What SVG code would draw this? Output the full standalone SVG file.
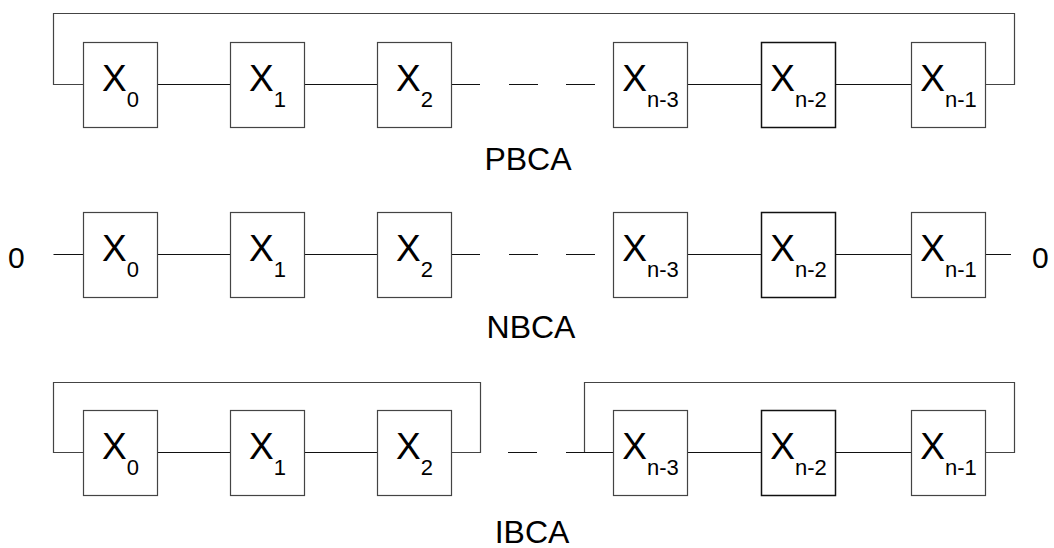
<svg xmlns="http://www.w3.org/2000/svg" width="1054" height="548" viewBox="0 0 1054 548">
  <style>
    .cell { fill: #fff; stroke: #444; stroke-width: 1.2; }
    .cell.dark { stroke: #111; stroke-width: 1.5; }
    .wire { fill: none; stroke: #111; stroke-width: 1.2; }
    .loop { fill: none; stroke: #444; stroke-width: 1.2; }
    .var { font-family: "Liberation Sans", Arial, sans-serif; font-size: 37px; fill: #000; }
    .var .sub { font-size: 22px; }
    .label { font-family: "Liberation Sans", Arial, sans-serif; font-size: 32px; fill: #000; }
    .bound { font-family: "Liberation Sans", Arial, sans-serif; font-size: 30px; fill: #000; }
  </style>

  <!-- connectors -->
  <g id="connectors">
    <!-- PBCA: periodic boundary, wraps last cell to first -->
    <path class="loop" d="M83 84.5 H53.5 V13.5 H1014.5 V84.5 H985"/>
    <path class="wire" d="M157 84.5 H230 M304 84.5 H377 M451 84.5 H480 M509 84.5 H538 M566 84.5 H595 M687 84.5 H761 M835 84.5 H911"/>

    <!-- NBCA: null boundary -->
    <path class="wire" d="M53.5 254.5 H83 M157 254.5 H230 M304 254.5 H377 M451 254.5 H480 M509 254.5 H538 M566 254.5 H595 M687 254.5 H761 M835 254.5 H911 M985 254.5 H1011"/>

    <!-- IBCA: intermediate boundary, two separate loops -->
    <path class="loop" d="M83 452.5 H53.5 V382.5 H480.5 V452.5 H451"/>
    <path class="loop" d="M584.5 452.5 V382.5 H1014.5 V452.5 H985"/>
    <path class="wire" d="M157 452.5 H230 M304 452.5 H377 M508 452.5 H537 M566 452.5 H613 M687 452.5 H761 M835 452.5 H911"/>
  </g>

  <!-- PBCA row -->
  <g id="p-x0"><rect class="cell" x="83.5" y="42.5" width="74" height="85"/><text class="var" x="120.5" y="90.5" text-anchor="middle">X<tspan class="sub" dy="16.5">0</tspan></text></g>
  <g id="p-x1"><rect class="cell" x="230.5" y="42.5" width="74" height="85"/><text class="var" x="267.5" y="90.5" text-anchor="middle">X<tspan class="sub" dy="16.5">1</tspan></text></g>
  <g id="p-x2"><rect class="cell" x="377.5" y="42.5" width="74" height="85"/><text class="var" x="414.5" y="90.5" text-anchor="middle">X<tspan class="sub" dy="16.5">2</tspan></text></g>
  <g id="p-xn3"><rect class="cell" x="613.5" y="42.5" width="74" height="85"/><text class="var" x="650.5" y="90.5" text-anchor="middle">X<tspan class="sub" dy="16.5">n-3</tspan></text></g>
  <g id="p-xn2"><rect class="cell dark" x="761.5" y="42.5" width="74" height="85"/><text class="var" x="798.5" y="90.5" text-anchor="middle">X<tspan class="sub" dy="16.5">n-2</tspan></text></g>
  <g id="p-xn1"><rect class="cell" x="911.5" y="42.5" width="74" height="85"/><text class="var" x="948.5" y="90.5" text-anchor="middle">X<tspan class="sub" dy="16.5">n-1</tspan></text></g>
  <text id="label-pbca" class="label" x="528" y="170" text-anchor="middle">PBCA</text>

  <!-- NBCA row -->
  <text id="nb-left" class="bound" x="8" y="268">0</text>
  <g id="n-x0"><rect class="cell" x="83.5" y="212.5" width="74" height="85"/><text class="var" x="120.5" y="260.5" text-anchor="middle">X<tspan class="sub" dy="16.5">0</tspan></text></g>
  <g id="n-x1"><rect class="cell" x="230.5" y="212.5" width="74" height="85"/><text class="var" x="267.5" y="260.5" text-anchor="middle">X<tspan class="sub" dy="16.5">1</tspan></text></g>
  <g id="n-x2"><rect class="cell" x="377.5" y="212.5" width="74" height="85"/><text class="var" x="414.5" y="260.5" text-anchor="middle">X<tspan class="sub" dy="16.5">2</tspan></text></g>
  <g id="n-xn3"><rect class="cell" x="613.5" y="212.5" width="74" height="85"/><text class="var" x="650.5" y="260.5" text-anchor="middle">X<tspan class="sub" dy="16.5">n-3</tspan></text></g>
  <g id="n-xn2"><rect class="cell dark" x="761.5" y="212.5" width="74" height="85"/><text class="var" x="798.5" y="260.5" text-anchor="middle">X<tspan class="sub" dy="16.5">n-2</tspan></text></g>
  <g id="n-xn1"><rect class="cell" x="911.5" y="212.5" width="74" height="85"/><text class="var" x="948.5" y="260.5" text-anchor="middle">X<tspan class="sub" dy="16.5">n-1</tspan></text></g>
  <text id="nb-right" class="bound" x="1032" y="268">0</text>
  <text id="label-nbca" class="label" x="531" y="338" text-anchor="middle">NBCA</text>

  <!-- IBCA row -->
  <g id="i-x0"><rect class="cell" x="83.5" y="410.5" width="74" height="85"/><text class="var" x="120.5" y="458.5" text-anchor="middle">X<tspan class="sub" dy="16.5">0</tspan></text></g>
  <g id="i-x1"><rect class="cell" x="230.5" y="410.5" width="74" height="85"/><text class="var" x="267.5" y="458.5" text-anchor="middle">X<tspan class="sub" dy="16.5">1</tspan></text></g>
  <g id="i-x2"><rect class="cell" x="377.5" y="410.5" width="74" height="85"/><text class="var" x="414.5" y="458.5" text-anchor="middle">X<tspan class="sub" dy="16.5">2</tspan></text></g>
  <g id="i-xn3"><rect class="cell" x="613.5" y="410.5" width="74" height="85"/><text class="var" x="650.5" y="458.5" text-anchor="middle">X<tspan class="sub" dy="16.5">n-3</tspan></text></g>
  <g id="i-xn2"><rect class="cell dark" x="761.5" y="410.5" width="74" height="85"/><text class="var" x="798.5" y="458.5" text-anchor="middle">X<tspan class="sub" dy="16.5">n-2</tspan></text></g>
  <g id="i-xn1"><rect class="cell" x="911.5" y="410.5" width="74" height="85"/><text class="var" x="948.5" y="458.5" text-anchor="middle">X<tspan class="sub" dy="16.5">n-1</tspan></text></g>
  <text id="label-ibca" class="label" x="532" y="543" text-anchor="middle">IBCA</text>
</svg>
